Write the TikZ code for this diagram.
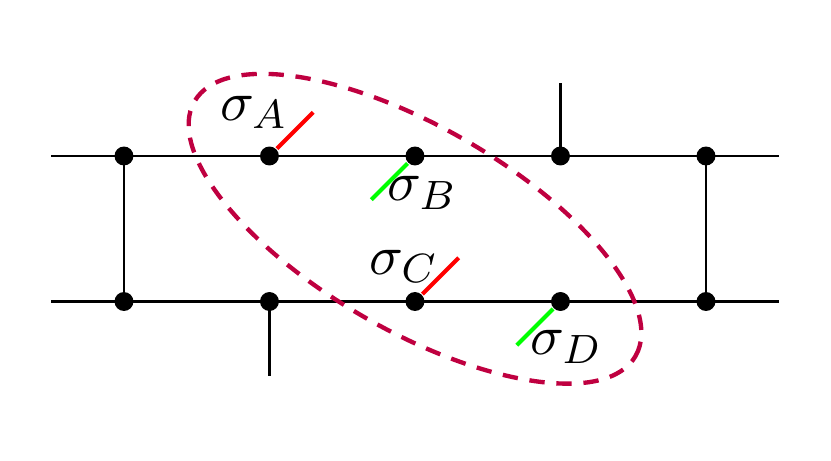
\documentclass[tikz,border=0pt]{standalone}
\begin{document}
\begin{tikzpicture}[
  dot/.style={circle,fill=black,inner sep=0pt,minimum size=3.7pt},
  wire/.style={black,line width=0.4pt},
  leg/.style={thick},
  lab/.style={inner sep=0pt, font=\fontsize{11.2}{13}\selectfont},
  ring/.style={purple,line width=0.85pt,dash pattern=on 3pt off 2.3pt}
]
\useasboundingbox (-0.852,-1.093) rectangle (4.859,2.072);
% dots
\foreach \i in {0,...,4} {
  \node[dot] (t\i) at (\i,1) {};
  \node[dot] (b\i) at (\i,0) {};
}
\coordinate (tl) at (-0.5,1);
\coordinate (tr) at (4.5,1);
\coordinate (bl) at (-0.5,0);
\coordinate (br) at (4.5,0);
\coordinate (tu) at (3,1.5);
\coordinate (bd) at (1,-0.51);
\draw[wire] (tl) -- (tr);
\draw[wire] (bl) -- (br);
\draw[wire] (t0.center) -- (b0.center);
\draw[wire] (t4.center) -- (b4.center);
\draw[wire] (t3.center) -- (tu);
\draw[wire] (b1.center) -- (bd);
% legs
\coordinate (ea) at (1.3,1.3);
\coordinate (eb) at (1.7,0.7);
\coordinate (ec) at (2.3,0.3);
\coordinate (ed) at (2.7,-0.3);
\draw[leg,red] (t1) -- (ea);
\draw[leg,green] (t2) -- (eb);
\draw[leg,red] (b2) -- (ec);
\draw[leg,green] (b3) -- (ed);
% labels
\node[lab] (la) at (0.894,1.30) {$\sigma_A$};
\node[lab] (lb) at (2.05,0.745) {$\sigma_B$};
\node[lab] (lc) at (1.924,0.24) {$\sigma_C$};
\node[lab] (ld) at (3.04,-0.31) {$\sigma_D$};
% ellipse
\draw[ring,rotate around={-30:(2,0.5)}] (2,0.5) ellipse (1.75 and 0.7);
\end{tikzpicture}
\end{document}
